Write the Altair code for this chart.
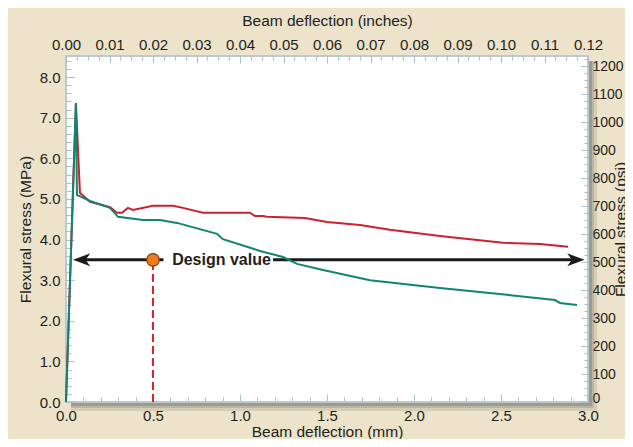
import altair as alt
import pandas as pd
import numpy as np

# ---------------- data ----------------
red_mm = [0.0, 0.057, 0.08, 0.138, 0.253, 0.293, 0.322, 0.356, 0.385, 0.5, 0.615, 0.672,
          0.787, 1.057, 1.086, 1.132, 1.155, 1.374, 1.5, 1.69, 1.862, 2.149, 2.511, 2.724, 2.885]
red_mpa = [0.0, 7.36, 5.15, 4.93, 4.80, 4.66, 4.66, 4.78, 4.73, 4.83, 4.83, 4.78,
           4.66, 4.66, 4.58, 4.58, 4.56, 4.53, 4.43, 4.36, 4.24, 4.09, 3.92, 3.89, 3.82]
green_mm = [0.0, 0.057, 0.063, 0.138, 0.253, 0.299, 0.443, 0.54, 0.638, 0.868, 0.902,
            1.115, 1.247, 1.328, 1.477, 1.747, 2.149, 2.534, 2.81, 2.839, 2.937]
green_mpa = [0.0, 7.36, 5.10, 4.95, 4.78, 4.56, 4.48, 4.48, 4.41, 4.14, 4.01,
             3.72, 3.57, 3.40, 3.25, 3.0, 2.81, 2.64, 2.51, 2.44, 2.39]

design_mm = [0.5]
design_mpa = [3.5]
design_label = ["Design value"]
design_label_mm = [0.61]
arrow_left_mm = [0.07, 0.56]
arrow_right_mm = [1.19, 2.94]
arrow_tip_left_mm = [0.04]
arrow_tip_right_mm = [2.98]

# tick positions / labels
mm_ticks = [round(v, 1) for v in np.arange(0, 3.001, 0.1)]
mpa_ticks = [round(v, 1) for v in np.arange(0, 8.41, 0.2)]
inch_ticks = [round(v, 4) for v in np.arange(0, 0.12001, 0.0025)]
psi_ticks = [int(v) for v in np.arange(0, 1226, 25)]

X_DOMAIN = [0, 3.0]
Y_DOMAIN = [0, 8.52]
INCH_DOMAIN = [0, 0.12]
PSI_DOMAIN = [0, 1236]

W, H = 522, 346
BG = "#ECE3CA"
TXT = "#231F20"
TICK = "#A9BFCC"
FONT = "Liberation Sans"
RED = "#CC2130"
GREEN = "#10866E"

lines_df = pd.DataFrame({
    "mm": red_mm + green_mm,
    "mpa": red_mpa + green_mpa,
    "series": ["red"] * len(red_mm) + ["green"] * len(green_mm),
    "order": list(range(len(red_mm))) + list(range(len(green_mm))),
})

xs = alt.Scale(domain=X_DOMAIN, nice=False, zero=False)
ys = alt.Scale(domain=Y_DOMAIN, nice=False)

x_axis = alt.Axis(
    orient="bottom", title="Beam deflection (mm)", values=mm_ticks,
    labelExpr="abs(datum.value*2 - round(datum.value*2)) < 0.001 ? format(datum.value, '.1f') : ''",
    tickSize={"condition": {"test": "abs(datum.value*2 - round(datum.value*2)) < 0.001", "value": -8}, "value": -5},
    labelPadding=14, titlePadding=-2, labelFlush=False, labelOverlap=False,
)
y_axis = alt.Axis(
    orient="left", title="Flexural stress (MPa)", values=mpa_ticks,
    labelExpr="abs(datum.value - round(datum.value)) < 0.001 ? format(datum.value, '.1f') : ''",
    tickSize={"condition": {"test": "abs(datum.value - round(datum.value)) < 0.001", "value": -8}, "value": -5},
    labelPadding=14, titlePadding=6, labelFlush=False, labelOverlap=False,
)

X = alt.X("mm:Q", scale=xs, axis=x_axis)
Y = alt.Y("mpa:Q", scale=ys, axis=y_axis)

one = alt.Data(values=[{}])

# drop shadow of the plot frame
shadows = []
for w, op in [(8, 0.18), (5, 0.25), (3, 0.35)]:
    shadows.append(alt.Chart(one).mark_rect(color="#6E6A60", opacity=op).encode(
        x=alt.value(W + 1), x2=alt.value(W + 1 + w), y=alt.value(5), y2=alt.value(H + 1 + w)))
    shadows.append(alt.Chart(one).mark_rect(color="#6E6A60", opacity=op).encode(
        x=alt.value(5), x2=alt.value(W + 1), y=alt.value(H + 1), y2=alt.value(H + 1 + w)))

design_df = pd.DataFrame({"mm": design_mm, "mpa": design_mpa, "base": [0.0]})

dashed = alt.Chart(design_df).mark_rule(color="#D9232E", strokeWidth=2, strokeDash=[8, 4]).encode(
    x=X, y=alt.Y("base:Q", scale=ys, axis=y_axis), y2="mpa:Q")

arrow_df = pd.DataFrame({
    "mm": [arrow_left_mm[0], arrow_right_mm[0]],
    "mm2": [arrow_left_mm[1], arrow_right_mm[1]],
    "mpa": design_mpa * 2,
})
arrow_lines = alt.Chart(arrow_df).mark_rule(color="#1B1B1B", strokeWidth=3).encode(
    x=X, x2="mm2:Q", y=Y)

tipL = pd.DataFrame({"mm": arrow_tip_left_mm, "mpa": design_mpa})
tipR = pd.DataFrame({"mm": arrow_tip_right_mm, "mpa": design_mpa})
headL = alt.Chart(tipL).mark_point(
    shape="M0,0 L2,-0.75 L1.45,0 L2,0.75 Z", filled=True, color="#1B1B1B", opacity=1, size=300
).encode(x=X, y=Y)
headR = alt.Chart(tipR).mark_point(
    shape="M0,0 L-2,-0.75 L-1.45,0 L-2,0.75 Z", filled=True, color="#1B1B1B", opacity=1, size=300
).encode(x=X, y=Y)

lines = alt.Chart(lines_df).mark_line(strokeWidth=2).encode(
    x=X, y=Y, detail="series:N", order="order:Q",
    color=alt.Color("series:N", scale=alt.Scale(domain=["red", "green"], range=[RED, GREEN]), legend=None),
)

circle = alt.Chart(design_df).mark_point(
    shape="circle", filled=True, fill="#EC7A1E", stroke="#7E3A0C", strokeWidth=1.2, opacity=1, size=160
).encode(x=X, y=Y)

label_df = pd.DataFrame({"mm": design_label_mm, "mpa": design_mpa, "t": design_label})
label = alt.Chart(label_df).mark_text(
    align="left", baseline="middle", font=FONT, fontSize=16, fontWeight="bold", color=TXT
).encode(x=X, y=Y, text="t:N")

main = alt.layer(*shadows, dashed, arrow_lines, headL, headR, lines, circle, label)

# secondary (inch / psi) axes
sec_df = pd.DataFrame({"inch": [0.0], "psi": [0.0]})
top_axis = alt.Axis(
    orient="top", title="Beam deflection (inches)", values=inch_ticks,
    labelExpr="abs(datum.value*100 - round(datum.value*100)) < 0.001 ? format(datum.value, '.2f') : ''",
    tickSize={"condition": {"test": "abs(datum.value*100 - round(datum.value*100)) < 0.001", "value": -7}, "value": -4},
    labelPadding=11, titlePadding=6, labelFlush=False, labelOverlap=False,
)
right_axis = alt.Axis(
    orient="right", title="Flexural stress (psi)", values=psi_ticks,
    labelExpr="datum.value % 100 === 0 ? format(datum.value, 'd') : ''",
    tickSize={"condition": {"test": "datum.value % 100 === 0", "value": -7}, "value": -4},
    labelBaseline={"condition": {"test": "datum.value === 0", "value": "alphabetic"}, "value": "middle"},
    labelPadding=11, titlePadding=5, titleAngle=270, labelFlush=False, labelOverlap=False,
    labelFontSize=14,
)
sec = alt.Chart(sec_df).mark_point(opacity=0).encode(
    x=alt.X("inch:Q", scale=alt.Scale(domain=INCH_DOMAIN, nice=False, zero=False), axis=top_axis),
    y=alt.Y("psi:Q", scale=alt.Scale(domain=PSI_DOMAIN, nice=False), axis=right_axis),
)

chart = alt.layer(main, sec).resolve_scale(x="independent", y="independent").properties(
    width=W, height=H,
    autosize=alt.AutoSizeParams(type="none"),
    padding={"left": 58, "top": 48, "right": 37, "bottom": 37},
    background=BG,
).configure_view(
    fill="white", stroke="#B8CAD6", strokeWidth=2,
).configure_axis(
    domain=False, grid=False, tickColor=TICK, tickWidth=1,
    labelFont=FONT, labelFontSize=15, labelColor=TXT,
    titleFont=FONT, titleFontSize=15.5, titleFontWeight="normal", titleColor=TXT,
)

chart.save("out.html", embed_options={"renderer": "svg", "actions": False})
